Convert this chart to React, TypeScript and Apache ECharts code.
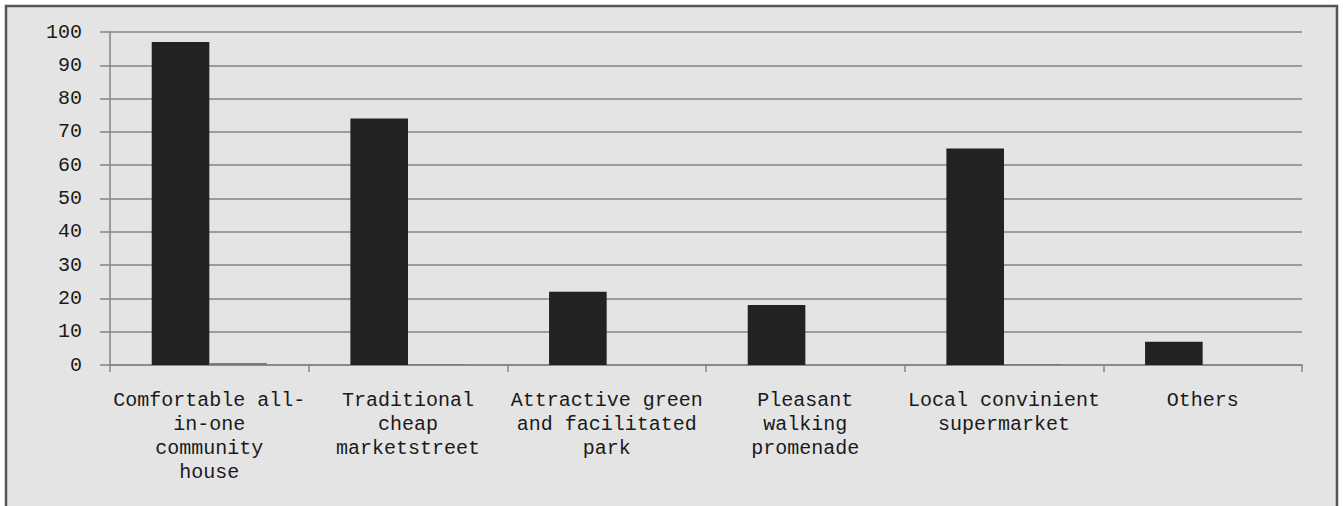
import React, { useEffect, useRef } from "react";
import * as echarts from "echarts";

const categories = [
  "Comfortable all-\nin-one\ncommunity\nhouse",
  "Traditional\ncheap\nmarketstreet",
  "Attractive green\nand facilitated\npark",
  "Pleasant\nwalking\npromenade",
  "Local convinient\nsupermarket",
  "Others",
];
const seriesA = [97, 74, 22, 18, 65, 7];
const seriesB = [0.6, 0.3, 0, 0, 0.3, 0];
const yTicks = { min: 0, max: 100, interval: 10 };

export default function App() {
  const ref = useRef<HTMLDivElement>(null);
  useEffect(() => {
    if (!ref.current) return;
    const chart = echarts.init(ref.current, null, { renderer: "svg" });
    const font = "'Liberation Mono', 'DejaVu Sans Mono', monospace";
    chart.setOption({
      animation: false,
      backgroundColor: "#ffffff",
      graphic: [
        {
          type: "rect",
          z: -10,
          silent: true,
          shape: { x: 6, y: 6, width: 1331, height: 510 },
          style: { fill: "#e4e4e4", stroke: "#555555", lineWidth: 2.5 },
        },
      ],
      grid: { left: 110, right: 41, top: 32, bottom: 141, containLabel: false },
      xAxis: {
        type: "category",
        data: categories,
        axisLine: { show: true, lineStyle: { color: "#858585", width: 1.5 } },
        axisTick: { show: true, length: 7, lineStyle: { color: "#858585", width: 1.5 } },
        axisLabel: {
          color: "#1a1a1a",
          fontFamily: font,
          fontSize: 20,
          lineHeight: 24,
          margin: 23,
          interval: 0,
        },
      },
      yAxis: {
        type: "value",
        min: yTicks.min,
        max: yTicks.max,
        interval: yTicks.interval,
        axisLine: { show: true, lineStyle: { color: "#858585", width: 1.5 } },
        axisTick: { show: true, length: 10, lineStyle: { color: "#858585", width: 1.5 } },
        splitLine: { show: true, lineStyle: { color: "#858585", width: 1.5 } },
        axisLabel: {
          color: "#1a1a1a",
          fontFamily: font,
          fontSize: 20,
          margin: 28,
        },
      },
      series: [
        {
          type: "bar",
          data: seriesA,
          itemStyle: { color: "#222222" },
          barGap: "0%",
          barCategoryGap: "42%",
        },
        {
          type: "bar",
          data: seriesB,
          itemStyle: { color: "#7a7a7a" },
          barGap: "0%",
          barCategoryGap: "42%",
        },
      ],
    });
    return () => chart.dispose();
  }, []);
  return (
    <div
      ref={ref}
      style={{ position: "fixed", left: 0, top: 0, width: 1343, height: 506 }}
    />
  );
}
